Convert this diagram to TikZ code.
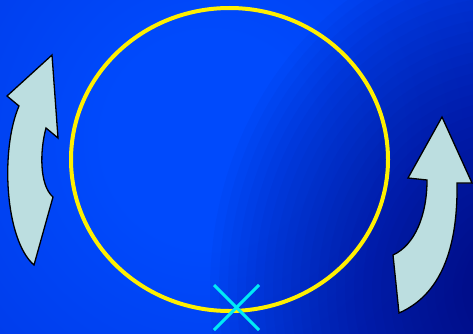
\documentclass[tikz,border=0pt]{standalone}
\definecolor{bgin}{RGB}{0,74,252}
\definecolor{bgmid}{RGB}{0,58,232}
\definecolor{bgout}{RGB}{0,38,205}
\definecolor{navy}{RGB}{0,0,100}
\definecolor{arrowfill}{RGB}{188,222,224}
\definecolor{ringcol}{RGB}{255,240,0}
\definecolor{crosscol}{RGB}{0,235,245}
\pgfdeclareradialshading{bgshade}{\pgfpoint{0bp}{0bp}}{color(0bp)=(bgin); color(8bp)=(bgin); color(25bp)=(bgmid); color(50bp)=(bgout)}
\tikzset{
  bigarrow/.style={fill=arrowfill, draw=black, line width=1.3pt, line join=miter},
  ring/.style={draw=ringcol, line width=4pt},
  crossline/.style={draw=crosscol, line width=3pt}
}
\begin{document}
\begin{tikzpicture}[x=1pt,y=-1pt]
\useasboundingbox (0,0) rectangle (473,334);
\begin{scope}
\clip (0,0) rectangle (473,334);
\shade[shading=bgshade] (210,140) circle (330);
\foreach \r in {30,39,...,300} {
  \fill[navy, opacity=0.035] (510,290) ellipse [x radius=\r, y radius=1.15*\r];
}
\end{scope}
% ring
\draw[ring] (229.5,159.5) ellipse [x radius=158.5, y radius=151.5];
% cross
\coordinate (x1) at (214,285);
\coordinate (x2) at (259,330);
\coordinate (x3) at (259,285);
\coordinate (x4) at (214,330);
\draw[crossline] (x1) -- (x2);
\draw[crossline] (x3) -- (x4);
% left arrow
\draw[bigarrow] (52,55) -- (58,138) -- (46,128)
  .. controls (40,150) and (39,185) .. (53,197)
  -- (34,265)
  .. controls (5,240) and (0,150) .. (19,106)
  -- (7,96) -- cycle;
% right arrow
\draw[bigarrow] (442,117) -- (472,183) -- (457,183)
  .. controls (458,250) and (440,295) .. (399,313)
  -- (393,255)
  .. controls (415,245) and (427,215) .. (427,180)
  -- (408,178) -- cycle;
\end{tikzpicture}
\end{document}
